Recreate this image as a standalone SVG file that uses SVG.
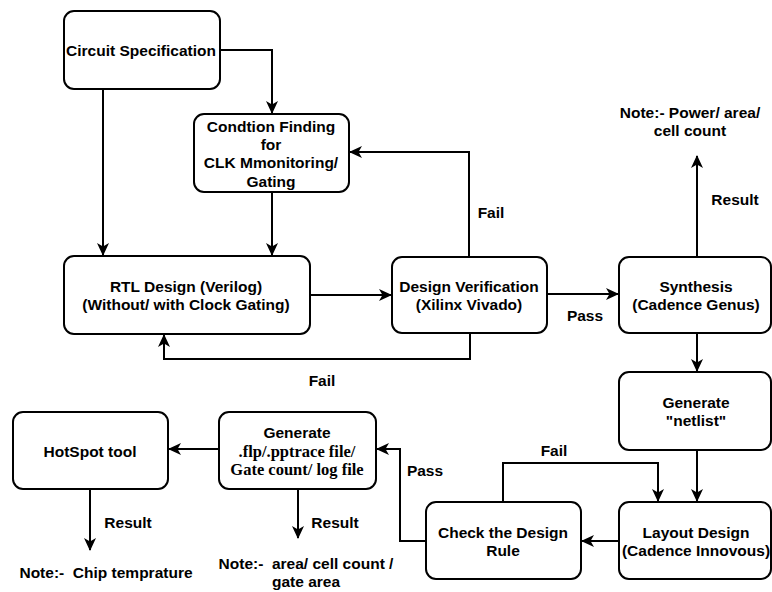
<svg xmlns="http://www.w3.org/2000/svg" width="772" height="592" viewBox="0 0 772 592">
<style>
.box{fill:#fff;stroke:#000;stroke-width:2}
.t{font-family:"Liberation Sans",Arial,sans-serif;font-weight:bold;font-size:15.5px;fill:#000;text-anchor:middle;white-space:pre}
.s{font-family:"Liberation Serif","Times New Roman",serif;font-weight:bold;font-size:16.5px;fill:#000;text-anchor:middle}
.c{fill:none;stroke:#000;stroke-width:2}
</style>
<defs>
<marker id="a" markerUnits="userSpaceOnUse" markerWidth="16" markerHeight="14" refX="12" refY="7" orient="auto">
<path d="M0,1 L13,7 L0,13 L3.5,7 z" fill="#000"/>
</marker>
</defs>
<rect width="772" height="592" fill="#fff"/>
<g id="connectors">
<path class="c" d="M220,50 H272 V113" marker-end="url(#a)"/>
<path class="c" d="M103,89 V255" marker-end="url(#a)"/>
<path class="c" d="M272,192 V255" marker-end="url(#a)"/>
<path class="c" d="M310,295 H391" marker-end="url(#a)"/>
<path class="c" d="M469,257 V152 H350" marker-end="url(#a)"/>
<path class="c" d="M470,333 V359 H164 V335" marker-end="url(#a)"/>
<path class="c" d="M547,294 H618" marker-end="url(#a)"/>
<path class="c" d="M697,257 V156" marker-end="url(#a)"/>
<path class="c" d="M697,333 V371" marker-end="url(#a)"/>
<path class="c" d="M697,450 V501" marker-end="url(#a)"/>
<path class="c" d="M619,541 H582" marker-end="url(#a)"/>
<path class="c" d="M503,502 V463 H658 V501" marker-end="url(#a)"/>
<path class="c" d="M426,541 H400 V449 H377" marker-end="url(#a)"/>
<path class="c" d="M219,449 H169" marker-end="url(#a)"/>
<path class="c" d="M90,489 V550" marker-end="url(#a)"/>
<path class="c" d="M298,489 V538" marker-end="url(#a)"/>
<text class="t" x="491" y="218">Fail</text>
<text class="t" x="322" y="386">Fail</text>
<text class="t" x="585" y="321">Pass</text>
<text class="t" x="735" y="205">Result</text>
<text class="t" x="554" y="456">Fail</text>
<text class="t" x="425" y="476">Pass</text>
<text class="t" x="128" y="528">Result</text>
<text class="t" x="335" y="528">Result</text>
</g>
<g id="circuit-spec">
<rect class="box" x="64" y="11" width="156" height="78" rx="10"/>
<text class="t" x="141" y="56">Circuit Specification</text>
</g>
<g id="condition-finding">
<rect class="box" x="194" y="114" width="155" height="78" rx="10"/>
<text class="t" x="271" y="132">Condtion Finding</text>
<text class="t" x="271" y="150">for</text>
<text class="t" x="271" y="168">CLK Mmonitoring/</text>
<text class="t" x="271" y="187">Gating</text>
</g>
<g id="rtl-design">
<rect class="box" x="64" y="256" width="246" height="78" rx="10"/>
<text class="t" x="186" y="292">RTL Design (Verilog)</text>
<text class="t" x="186" y="310">(Without/ with Clock Gating)</text>
</g>
<g id="design-verification">
<rect class="box" x="392" y="257" width="155" height="76" rx="10"/>
<text class="t" x="469" y="292">Design Verification</text>
<text class="t" x="469" y="310">(Xilinx Vivado)</text>
</g>
<g id="synthesis">
<rect class="box" x="619" y="257" width="152" height="76" rx="10"/>
<text class="t" x="696" y="292">Synthesis</text>
<text class="t" x="696" y="310">(Cadence Genus)</text>
</g>
<g id="note-synthesis">
<text class="t" x="690" y="118">Note:- Power/ area/</text>
<text class="t" x="690" y="136">cell count</text>
</g>
<g id="generate-netlist">
<rect class="box" x="619" y="372" width="152" height="78" rx="10"/>
<text class="t" x="696" y="408">Generate</text>
<text class="t" x="696" y="426">"netlist"</text>
</g>
<g id="layout-design">
<rect class="box" x="619" y="502" width="152" height="77" rx="10"/>
<text class="t" x="696" y="538">Layout Design</text>
<text class="t" x="696" y="556">(Cadence Innovous)</text>
</g>
<g id="check-design-rule">
<rect class="box" x="426" y="502" width="155" height="77" rx="10"/>
<text class="t" x="503" y="538">Check the Design</text>
<text class="t" x="503" y="556">Rule</text>
</g>
<g id="generate-files">
<rect class="box" x="219" y="412" width="157" height="77" rx="10"/>
<text class="t" x="297" y="438">Generate</text>
<text class="s" x="297" y="457">.flp/.pptrace file/</text>
<text class="s" x="297" y="475">Gate count/ log file</text>
</g>
<g id="hotspot">
<rect class="box" x="13" y="412" width="155" height="77" rx="10"/>
<text class="t" x="90" y="457">HotSpot tool</text>
</g>
<g id="note-hotspot">
<text class="t" x="106" y="578">Note:-  Chip temprature</text>
</g>
<g id="note-generate">
<text class="t" x="306" y="569">Note:-  area/ cell count /</text>
<text class="t" x="306" y="587">gate area</text>
</g>
</svg>
